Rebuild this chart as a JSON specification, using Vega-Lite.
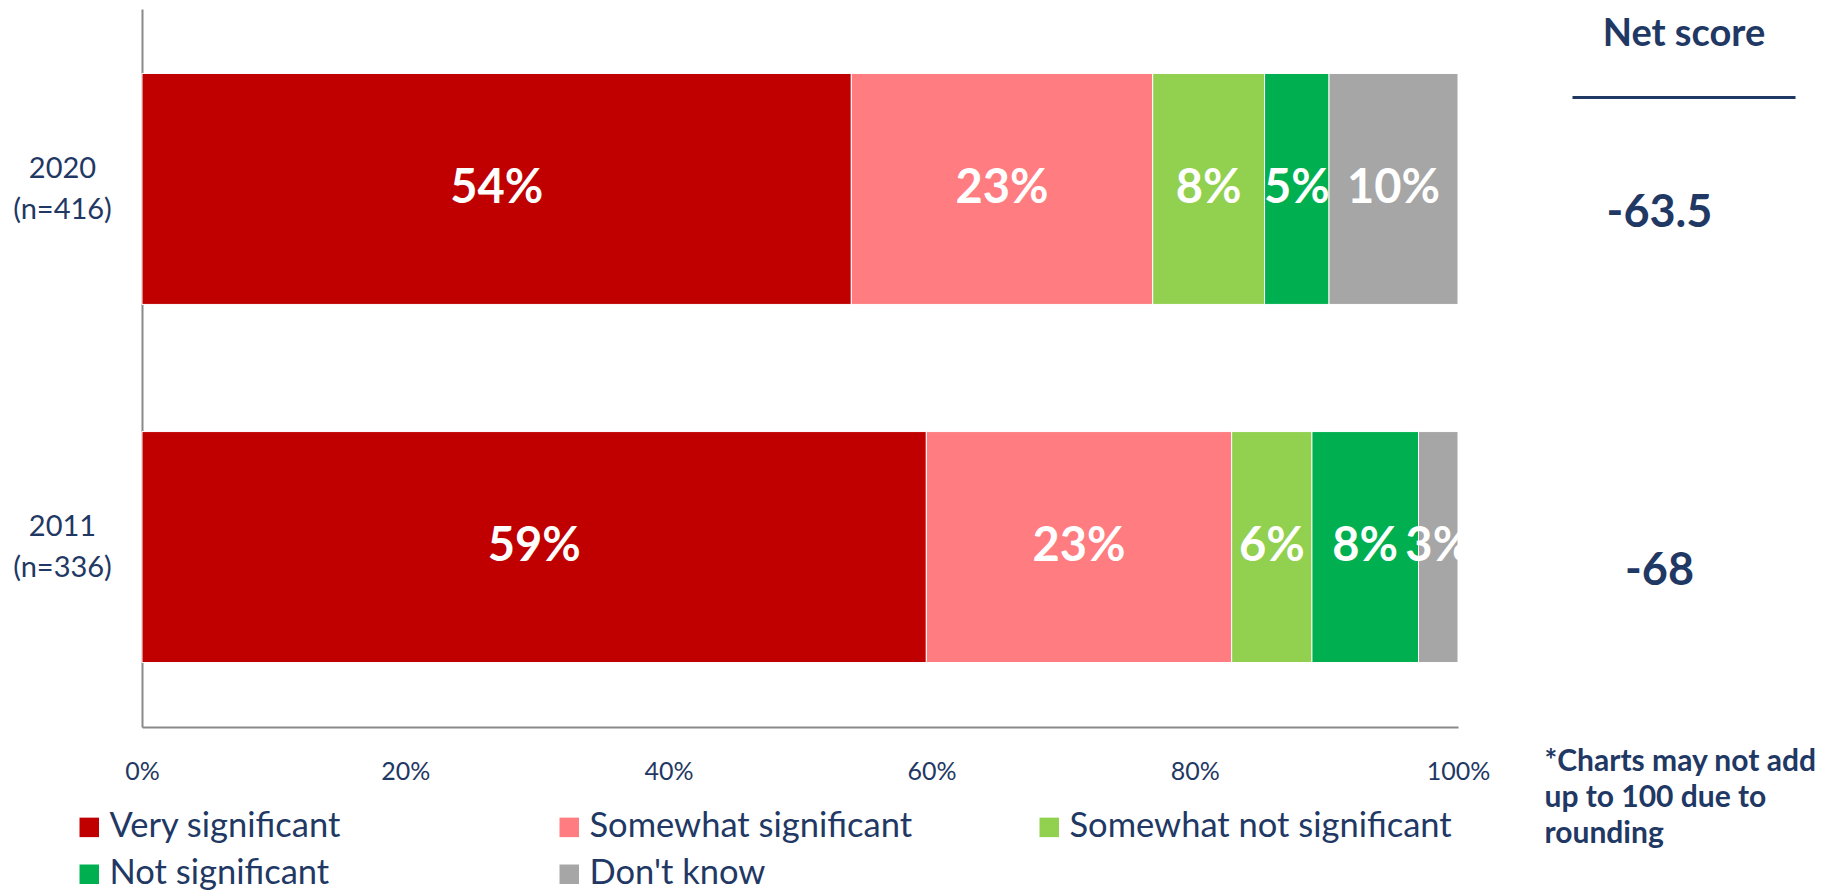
{
  "$schema": "https://vega.github.io/schema/vega-lite/v6.json",
  "autosize": {"type": "none"},
  "width": 1316,
  "height": 718,
  "padding": {"left": 142, "top": 9, "right": 370, "bottom": 164},
  "background": "white",
  "config": {
    "view": {"stroke": null},
    "font": "Lato",
    "text": {"font": "Lato"}
  },
  "datasets": {
    "shares": [
      {"group": "2020 (n=416)", "category": "Very significant", "k": 1, "value": 53.9, "label": "54%"},
      {"group": "2020 (n=416)", "category": "Somewhat significant", "k": 2, "value": 22.9, "label": "23%"},
      {"group": "2020 (n=416)", "category": "Somewhat not significant", "k": 3, "value": 8.5, "label": "8%"},
      {"group": "2020 (n=416)", "category": "Not significant", "k": 4, "value": 4.9, "label": "5%"},
      {"group": "2020 (n=416)", "category": "Don't know", "k": 5, "value": 9.8, "label": "10%"},
      {"group": "2011 (n=336)", "category": "Very significant", "k": 1, "value": 59.6, "label": "59%"},
      {"group": "2011 (n=336)", "category": "Somewhat significant", "k": 2, "value": 23.2, "label": "23%"},
      {"group": "2011 (n=336)", "category": "Somewhat not significant", "k": 3, "value": 6.1, "label": "6%"},
      {"group": "2011 (n=336)", "category": "Not significant", "k": 4, "value": 8.1, "label": "8%"},
      {"group": "2011 (n=336)", "category": "Don't know", "k": 5, "value": 3.0, "label": "3%"}
    ],
    "net": [
      {"group": "2020 (n=416)", "net": -63.5},
      {"group": "2011 (n=336)", "net": -68}
    ]
  },
  "encoding": {
    "y": {
      "field": "group", "type": "nominal",
      "scale": {"domain": ["2020 (n=416)", "2011 (n=336)"], "paddingInner": 0.355, "paddingOuter": 0.18},
      "axis": {
        "title": null, "ticks": false, "tickSize": 0, "grid": false,
        "domainColor": "#898989", "domainWidth": 2,
        "labelExpr": "split(datum.label, ' ')",
        "labelAlign": "center", "labelBaseline": "middle", "labelPadding": 80, "labelOffset": -20,
        "labelFont": "Lato", "labelFontSize": 29, "labelColor": "#1F3864", "labelLineHeight": 41
      }
    }
  },
  "layer": [
    {
      "data": {"name": "shares"},
      "layer": [
        {
          "mark": {"type": "bar", "stroke": "white", "strokeWidth": 1},
          "encoding": {
            "x": {
              "field": "value", "type": "quantitative", "stack": "zero",
              "scale": {"domain": [0, 100], "nice": false},
              "axis": {
                "orient": "bottom",
                "values": [0, 20, 40, 60, 80, 100],
                "labelExpr": "datum.value + '%'",
                "ticks": false, "tickSize": 0, "grid": false,
                "domainColor": "#898989", "domainWidth": 2,
                "labelFont": "Lato", "labelFontSize": 25, "labelColor": "#1F3864", "labelPadding": 32,
                "labelFlush": false,
                "title": ["*Charts may not add", "up to 100 due to", "rounding"],
                "titleX": 1402, "titleY": 43, "titleAlign": "left", "titleBaseline": "alphabetic",
                "titleAnchor": "start",
                "titleFont": "Lato", "titleFontSize": 30, "titleFontWeight": "bold", "titleColor": "#1F3864",
                "titleLineHeight": 36
              }
            },
            "order": {"field": "k", "type": "quantitative"},
            "color": {
              "field": "category", "type": "nominal",
              "scale": {
                "domain": ["Very significant", "Somewhat significant", "Somewhat not significant", "Not significant", "Don't know"],
                "range": ["#C00000", "#FF7C80", "#92D050", "#00B050", "#A6A6A6"]
              },
              "legend": {
                "orient": "none", "legendX": -70, "legendY": 801,
                "direction": "horizontal", "columns": 3, "gridAlign": "all",
                "columnPadding": 60, "rowPadding": 12,
                "title": null,
                "symbolType": "square", "symbolSize": 380, "symbolStrokeWidth": 0,
                "labelFont": "Lato", "labelFontSize": 34.5, "labelColor": "#1F3864",
                "labelOffset": 3, "labelLimit": 600
              }
            }
          }
        },
        {
          "mark": {"type": "text", "color": "white", "font": "Lato", "fontWeight": "bold", "fontSize": 47, "align": "center", "baseline": "middle"},
          "encoding": {
            "x": {"field": "value", "type": "quantitative", "stack": "zero", "bandPosition": 0.5},
            "order": {"field": "k", "type": "quantitative"},
            "detail": {"field": "category", "type": "nominal"},
            "text": {"field": "label", "type": "nominal"}
          }
        }
      ]
    },
    {
      "data": {"name": "net"},
      "mark": {"type": "text", "color": "#1F3864", "font": "Lato", "fontWeight": "bold", "fontSize": 45, "align": "center", "baseline": "middle", "dx": -24, "dy": 24},
      "encoding": {
        "x": {
          "datum": 0.5, "type": "quantitative",
          "scale": {"domain": [0, 1], "range": [1430, 1653], "nice": false, "zero": false},
          "axis": {
            "orient": "top", "offset": -88,
            "ticks": false, "labels": false, "grid": false,
            "domain": true, "domainColor": "#1F3864", "domainWidth": 3,
            "title": "Net score", "titleFont": "Lato", "titleFontSize": 38, "titleFontWeight": "bold",
            "titleColor": "#1F3864", "titlePadding": 44
          }
        },
        "text": {"field": "net", "type": "nominal"}
      }
    }
  ],
  "resolve": {"scale": {"x": "independent"}, "axis": {"x": "independent"}}
}
